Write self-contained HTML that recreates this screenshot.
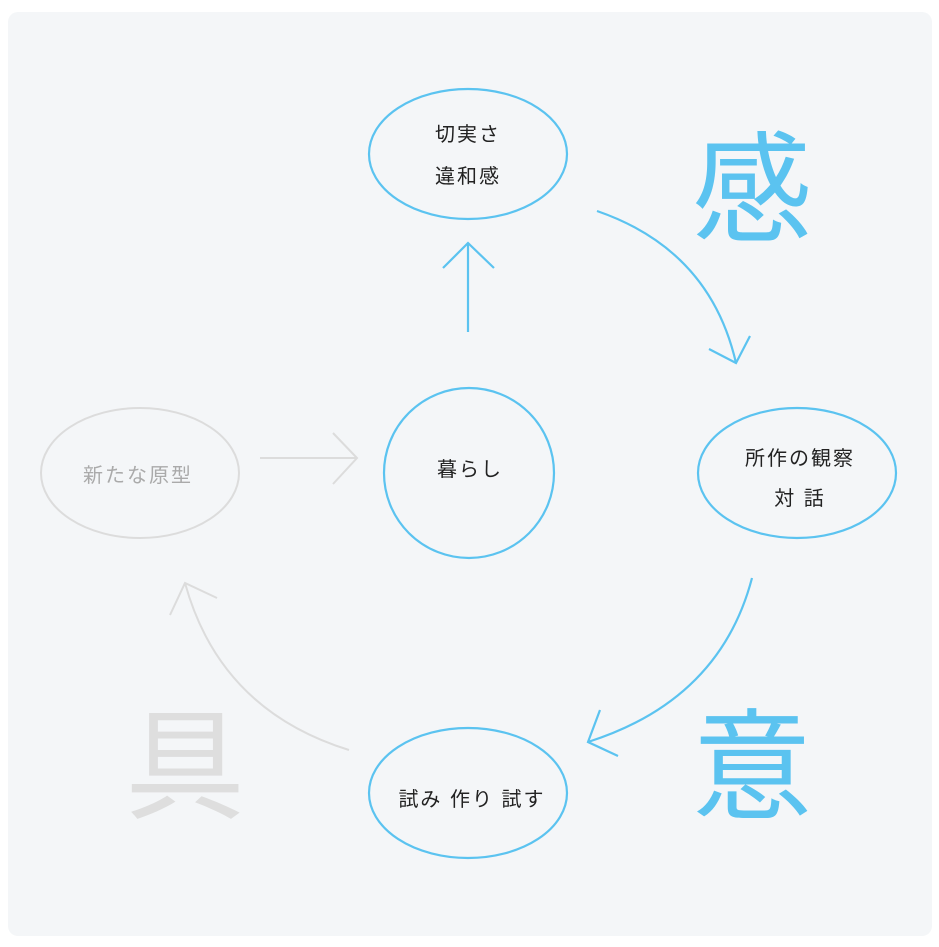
<!DOCTYPE html>
<html><head><meta charset="utf-8"><style>
html,body{margin:0;padding:0;background:#fff;}
svg{display:block;}
text{font-family:"Liberation Sans","Noto Sans CJK JP",sans-serif;}
</style></head><body>
<svg width="939" height="947" viewBox="0 0 939 947" xmlns="http://www.w3.org/2000/svg">
<rect x="8" y="12" width="924" height="924" rx="10" fill="#f4f6f8"/>
<g fill="none" stroke="#5bc3f0" stroke-width="2.2">
<rect x="369" y="89" width="198" height="130" rx="99" ry="65"/>
<circle cx="469" cy="473" r="85"/>
<rect x="698" y="408" width="198" height="130" rx="99" ry="65"/>
<rect x="369" y="728" width="198" height="130" rx="99" ry="65"/>
<path d="M468 332 L468 243 M443 268 L468 243 L494 268"/>
<path d="M597 211 Q710 250 736 363 M709 349 L736 363 L750 336"/>
<path d="M752 578 Q720 700 588 742 M600 710 L588 742 L618 756"/>
</g>
<g fill="none" stroke="#dcdcdc" stroke-width="2">
<rect x="41" y="408" width="198" height="130" rx="99" ry="65"/>
<path d="M260 458 L357 458 M333 433 L357 458 L333 484"/>
<path d="M349 750 Q220 710 185 583 M170 615 L185 583 L217 598"/>
</g>
<g font-size="20" fill="#222" text-anchor="middle" letter-spacing="2">
<text x="468" y="141">切実さ</text>
<text x="468" y="183">違和感</text>
<text x="470" y="476">暮らし</text>
<text x="800" y="465">所作の観察</text>
<text x="800" y="505">対 話</text>
<text x="472" y="806">試み 作り 試す</text>
<text x="138" y="482" fill="#aaa">新たな原型</text>
</g>
<g font-size="120" text-anchor="middle">
<text x="752" y="232" fill="#5bc3f0">感</text>
<text x="752" y="809" fill="#5bc3f0">意</text>
<text x="185" y="809" fill="#dedede">具</text>
</g>
</svg>
</body></html>
